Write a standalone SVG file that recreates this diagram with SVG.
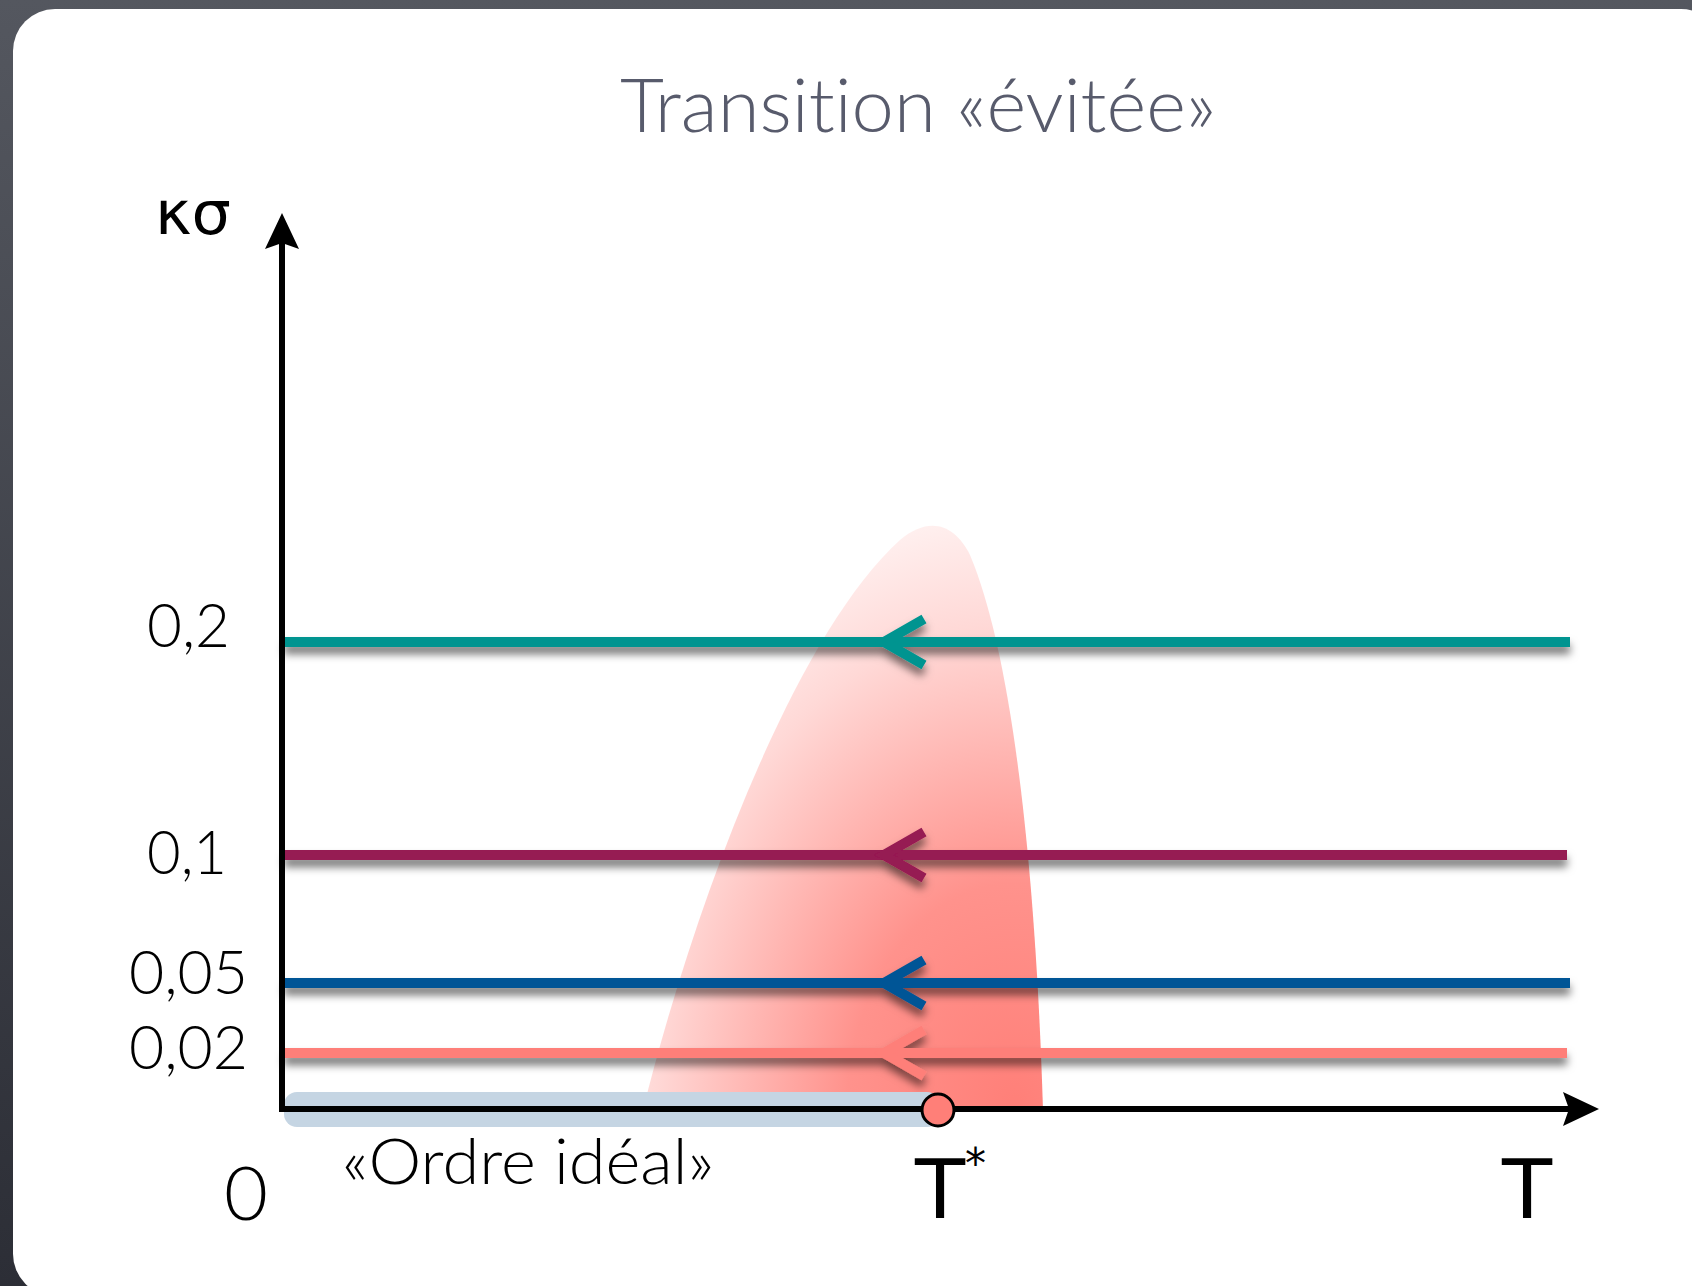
<svg xmlns="http://www.w3.org/2000/svg" width="1692" height="1286" viewBox="0 0 1692 1286">
  <defs>
    <linearGradient id="bg" x1="0" y1="0" x2="0" y2="1">
      <stop offset="0" stop-color="#54575f"/>
      <stop offset="1" stop-color="#2c2e36"/>
    </linearGradient>
    <radialGradient id="heat" gradientUnits="userSpaceOnUse" cx="0" cy="0" r="480" gradientTransform="translate(1015 1110) scale(1 1.35)">
      <stop offset="0" stop-color="#ff7f78" stop-opacity="1"/>
      <stop offset="0.35" stop-color="#ff7f78" stop-opacity="0.85"/>
      <stop offset="0.75" stop-color="#ff7f78" stop-opacity="0.3"/>
      <stop offset="1" stop-color="#ff7f78" stop-opacity="0.04"/>
    </radialGradient>
    <filter id="shadow" x="-5%" y="-200%" width="110%" height="500%">
      <feDropShadow dx="0" dy="7" stdDeviation="4" flood-color="#000" flood-opacity="0.55"/>
    </filter>
  </defs>
  <style>
    .lbl { font-family: Lato, "Open Sans", "Liberation Sans", sans-serif; fill: #000; font-weight: 300; font-variant-ligatures: none; }
    .sym { font-family: "DejaVu Sans", "Liberation Sans", sans-serif; fill: #000; }
    .title { font-family: Lato, "Open Sans", "Liberation Sans", sans-serif; fill: #585b6c; font-size: 74px; font-weight: 300; font-variant-ligatures: none; }
    .flow { fill: none; stroke-width: 10; stroke-linecap: butt; }
    .chev { fill: none; stroke-width: 10; stroke-linecap: butt; stroke-linejoin: miter; }
    .axis { stroke: #000; stroke-width: 6; fill: none; }
  </style>

  <rect x="0" y="0" width="1692" height="1286" fill="url(#bg)"/>
  <rect id="card" x="13" y="9" width="1710" height="1287" rx="42" ry="42" fill="#ffffff"/>

  <g id="title">
    <text class="title" x="620" y="132" textLength="596" lengthAdjust="spacingAndGlyphs">Transition «évitée»</text>
  </g>

  <g id="avoided-region">
    <path d="M 643 1110 C 690 920, 790 640, 900 540 C 930 515, 955 525, 970 555 C 1010 650, 1035 850, 1043 1110 Z" fill="url(#heat)"/>
  </g>

  <g id="connectors">
    <g id="flow-02" filter="url(#shadow)">
      <line class="flow" x1="284" y1="642" x2="1570" y2="642" stroke="#009490"/>
      <polyline class="chev" points="924,619 884,642 924,665" stroke="#009490"/>
    </g>
    <g id="flow-01" filter="url(#shadow)">
      <line class="flow" x1="284" y1="855" x2="1567" y2="855" stroke="#961a52"/>
      <polyline class="chev" points="924,832 884,855 924,878" stroke="#961a52"/>
    </g>
    <g id="flow-005" filter="url(#shadow)">
      <line class="flow" x1="284" y1="983" x2="1570" y2="983" stroke="#005596"/>
      <polyline class="chev" points="924,960 884,983 924,1006" stroke="#005596"/>
    </g>
    <g id="flow-002" filter="url(#shadow)">
      <line class="flow" x1="284" y1="1053" x2="1567" y2="1053" stroke="#fe7f79"/>
      <polyline class="chev" points="924,1030 884,1053 924,1076" stroke="#fe7f79"/>
    </g>
  </g>

  <g id="ideal-order">
    <rect x="284" y="1092" width="656" height="35" rx="13" ry="13" fill="#c5d5e3"/>
  </g>

  <g id="axes">
    <path class="axis" d="M 282 1111 L 282 240"/>
    <path d="M 282 213 L 299 249 L 282 243 L 265 249 Z" fill="#000"/>
    <path class="axis" d="M 279 1109 L 1570 1109"/>
    <path d="M 1599 1109 L 1563 1092 L 1569 1109 L 1563 1126 Z" fill="#000"/>
  </g>

  <g id="t-star-point">
    <circle cx="938" cy="1110" r="16" fill="#ff7f78" stroke="#000" stroke-width="3"/>
  </g>

  <g id="labels">
    <text class="sym" x="155" y="234" font-size="60" textLength="76" lengthAdjust="spacingAndGlyphs">κσ</text>
    <text class="lbl" x="147" y="647" font-size="62" textLength="83" lengthAdjust="spacingAndGlyphs">0,2</text>
    <text class="lbl" x="147" y="874" font-size="62" textLength="80" lengthAdjust="spacingAndGlyphs">0,1</text>
    <text class="lbl" x="129" y="994" font-size="62" textLength="119" lengthAdjust="spacingAndGlyphs">0,05</text>
    <text class="lbl" x="129" y="1069" font-size="62" textLength="119" lengthAdjust="spacingAndGlyphs">0,02</text>
    <text class="lbl" x="224" y="1220" font-size="74" textLength="44" lengthAdjust="spacingAndGlyphs">0</text>
    <text class="lbl" x="342" y="1184" font-size="64" textLength="372" lengthAdjust="spacingAndGlyphs">«Ordre idéal»</text>
    <text class="sym" x="915" y="1218" font-size="82">T<tspan font-size="42" dy="-40">*</tspan></text>
    <text class="sym" x="1502" y="1218" font-size="82">T</text>
  </g>
</svg>
